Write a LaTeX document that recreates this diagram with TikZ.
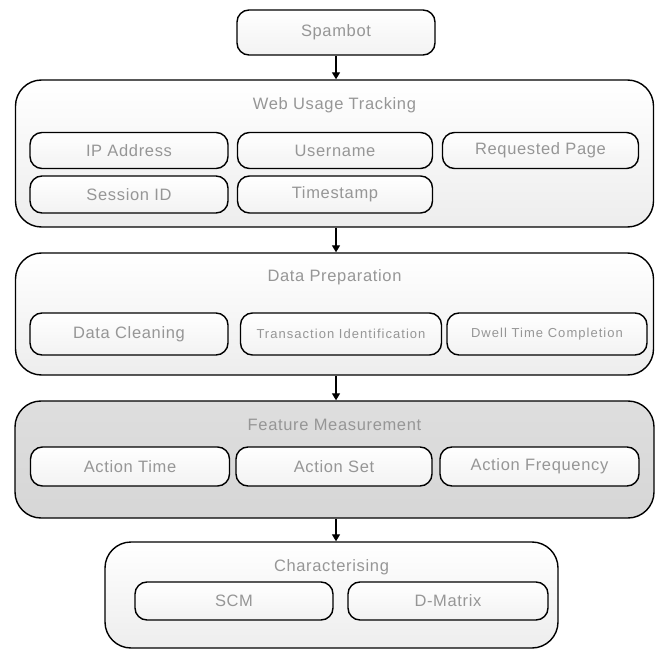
\documentclass[tikz,border=0pt]{standalone}
\usepackage{fontspec}
\setmainfont{Liberation Sans}
\usetikzlibrary{arrows.meta}
\definecolor{labelgray}{HTML}{969696}
\newfontfamily\labelfont[LetterSpace=4]{Liberation Sans}
\newfontfamily\smalllabelfont[LetterSpace=8]{Liberation Sans}
\begin{document}
\begin{tikzpicture}[x=1pt,y=-1pt,
  stage/.style={draw=black, line width=1.4pt, rounded corners=26pt,
    top color=white, bottom color=black!7, inner sep=0pt},
  stagedark/.style={stage, top color=black!13, bottom color=black!16},
  item/.style={draw=black, line width=1.4pt, rounded corners=12pt,
    top color=white, bottom color=black!5, inner sep=0pt,
    text=labelgray, font=\labelfont\fontsize{16.5}{18}\selectfont},
  smallitem/.style={item, font=\smalllabelfont\fontsize{13}{15}\selectfont},
  heading/.style={text=labelgray, font=\labelfont\fontsize{16.5}{18}\selectfont, inner sep=0pt},
  flow/.style={-{Triangle[length=7pt,width=8pt]}, line width=1.3pt}]
\path[use as bounding box] (0,0) rectangle (664,652);

% top source
\node[item, minimum width=198pt, minimum height=45pt] (spambot) at (336,32.5) {Spambot};

% stage 1: web usage tracking
\node[stage, minimum width=638pt, minimum height=147pt] (web) at (334.5,153.5) {};
\node[heading] (webt) at (334.5,105) {Web Usage Tracking};
\node[item, minimum width=198pt, minimum height=36pt] (ip) at (129,150.5) {IP Address};
\node[item, minimum width=195pt, minimum height=36pt] (user) at (335,150.5) {Username};
\node[item, minimum width=196pt, minimum height=36pt] (page) at (540.5,150.5) {Requested Page};
\node[item, minimum width=198pt, minimum height=37pt] (session) at (129,194.5) {Session ID};
\node[item, minimum width=195pt, minimum height=37pt] (time) at (335,194.5) {Timestamp};

% stage 2: data preparation
\node[stage, minimum width=638pt, minimum height=122pt] (prep) at (334.5,314) {};
\node[heading] (prept) at (334.5,277) {Data Preparation};
\node[item, minimum width=198pt, minimum height=42pt] (clean) at (129,334) {Data Cleaning};
\node[smallitem, minimum width=201pt, minimum height=42pt] (trans) at (341,334) {Transaction Identification};
\node[smallitem, minimum width=200pt, minimum height=42pt] (dwell) at (547,334) {Dwell Time Completion};

% stage 3: feature measurement
\node[stagedark, minimum width=639pt, minimum height=117pt] (feat) at (334.5,459.5) {};
\node[heading] (featt) at (334.5,425) {Feature Measurement};
\node[item, minimum width=199pt, minimum height=39pt] (atime) at (130,466.5) {Action Time};
\node[item, minimum width=196pt, minimum height=39pt] (aset) at (334,466.5) {Action Set};
\node[item, minimum width=199pt, minimum height=39pt] (afreq) at (539.5,466.5) {Action Frequency};

% stage 4: characterising
\node[stage, minimum width=453pt, minimum height=106pt] (char) at (331.5,595) {};
\node[heading] (chart) at (331.5,567) {Characterising};
\node[item, minimum width=198pt, minimum height=38pt] (scm) at (234,601) {SCM};
\node[item, minimum width=200pt, minimum height=38pt] (dmat) at (448,601) {D-Matrix};

% flow between stages
\draw[flow] (spambot.south) -- (spambot.south |- web.north);
\draw[flow] (spambot.south |- web.south) -- (spambot.south |- prep.north);
\draw[flow] (spambot.south |- prep.south) -- (spambot.south |- feat.north);
\draw[flow] (spambot.south |- feat.south) -- (spambot.south |- char.north);
\end{tikzpicture}
\end{document}
